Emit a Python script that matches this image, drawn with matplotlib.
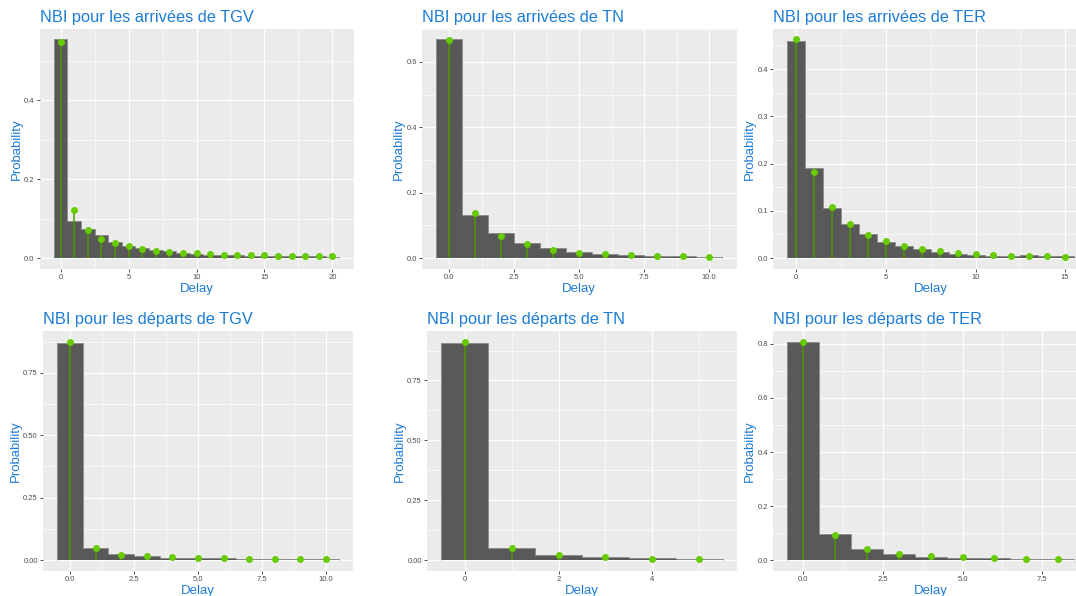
import numpy as np
import matplotlib
matplotlib.use('Agg')
import matplotlib.pyplot as plt
from matplotlib.ticker import FixedLocator

plt.rcParams['font.family'] = ['Liberation Sans', 'DejaVu Sans']

###############################################################################
# Data read off the reference: histogram bars (observed) and NBI pmf (points)

# Arrivals TGV
arr_tgv_bars = [0.555, 0.0945, 0.073, 0.058, 0.041, 0.031, 0.025, 0.021, 0.017, 0.014,
                0.011, 0.009, 0.0076, 0.0068, 0.006, 0.006, 0.005, 0.005, 0.004, 0.004, 0.0035]
arr_tgv_nbi = [0.549, 0.121, 0.070, 0.049, 0.037, 0.030, 0.024, 0.019, 0.016, 0.014,
               0.0127, 0.010, 0.009, 0.008, 0.007, 0.007, 0.006, 0.0059, 0.0045, 0.0043, 0.004]

# Arrivals TN
arr_tn_bars = [0.669, 0.133, 0.076, 0.045, 0.0305, 0.018, 0.013, 0.009, 0.007, 0.005, 0.003]
arr_tn_nbi = [0.667, 0.139, 0.069, 0.043, 0.026, 0.017, 0.012, 0.009, 0.007, 0.005, 0.003]

# Arrivals TER
arr_ter_bars = [0.459, 0.1905, 0.105, 0.073, 0.0506, 0.0337, 0.0253, 0.019, 0.0127, 0.0091,
                0.0063, 0.0042, 0.0042, 0.0056, 0.0042, 0.0042]
arr_ter_nbi = [0.4626, 0.182, 0.1076, 0.0717, 0.049, 0.036, 0.0253, 0.0197, 0.0148, 0.0105,
               0.0084, 0.0056, 0.0049, 0.0035, 0.0035, 0.0028]

# Departures TGV
dep_tgv_bars = [0.871, 0.0466, 0.0253, 0.016, 0.0093, 0.0093, 0.0067, 0.004, 0.003, 0.003, 0.003]
dep_tgv_nbi = [0.8735, 0.0466, 0.021, 0.0146, 0.0107, 0.008, 0.0067, 0.0055, 0.004, 0.004, 0.004]

# Departures TN
dep_tn_bars = [0.908, 0.0486, 0.0208, 0.011, 0.007, 0.004]
dep_tn_nbi = [0.911, 0.050, 0.0208, 0.011, 0.0055, 0.003]

# Departures TER
dep_ter_bars = [0.806, 0.096, 0.0407, 0.021, 0.0123, 0.0086, 0.006, 0.004, 0.004]
dep_ter_nbi = [0.8076, 0.0925, 0.0395, 0.0234, 0.0148, 0.011, 0.006, 0.0037, 0.0037]

titles = ['NBI pour les arrivées de TGV', 'NBI pour les arrivées de TN',
          'NBI pour les arrivées de TER', 'NBI pour les départs de TGV',
          'NBI pour les départs de TN', 'NBI pour les départs de TER']
x_ticks = [[0, 5, 10, 15, 20], [0, 2.5, 5, 7.5, 10], [0, 5, 10, 15],
           [0, 2.5, 5, 7.5, 10], [0, 2, 4], [0, 2.5, 5, 7.5]]
x_labels = [['0', '5', '10', '15', '20'], ['0.0', '2.5', '5.0', '7.5', '10.0'],
            ['0', '5', '10', '15'], ['0.0', '2.5', '5.0', '7.5', '10.0'],
            ['0', '2', '4'], ['0.0', '2.5', '5.0', '7.5']]
y_ticks = [[0, 0.2, 0.4], [0, 0.2, 0.4, 0.6], [0, 0.1, 0.2, 0.3, 0.4],
           [0, 0.25, 0.5, 0.75], [0, 0.25, 0.5, 0.75], [0, 0.2, 0.4, 0.6, 0.8]]
y_labels = [['0.0', '0.2', '0.4'], ['0.0', '0.2', '0.4', '0.6'],
            ['0.0', '0.1', '0.2', '0.3', '0.4'], ['0.00', '0.25', '0.50', '0.75'],
            ['0.00', '0.25', '0.50', '0.75'], ['0.0', '0.2', '0.4', '0.6', '0.8']]

bars = [arr_tgv_bars, arr_tn_bars, arr_ter_bars, dep_tgv_bars, dep_tn_bars, dep_ter_bars]
nbis = [arr_tgv_nbi, arr_tn_nbi, arr_ter_nbi, dep_tgv_nbi, dep_tn_nbi, dep_ter_nbi]

###############################################################################
# Layout (pixel boxes: left, right, top, bottom)
W, H = 1076, 596
boxes = [(39.5, 353.5, 28.5, 269), (422, 736.5, 28.5, 269), (773, 1088.5, 28.5, 269),
         (43, 353, 331, 571), (427, 737, 331, 571), (773, 1088.5, 331, 571)]

blue = '#1C7CD5'
tick_grey = '#4D4D4D'

fig = plt.figure(figsize=(W / 100, H / 100), dpi=100)
fig.patch.set_facecolor('white')


def minor_between(ticks, lo, hi):
    step = ticks[1] - ticks[0]
    m = np.arange(ticks[0] - step / 2, ticks[-1] + step, step)
    return [v for v in m if lo <= v <= hi]


for n in range(6):
    l, r, t, b = boxes[n]
    ax = fig.add_axes([l / W, 1 - b / H, (r - l) / W, (b - t) / H])
    ax.set_facecolor('#EBEBEB')
    for s in ax.spines.values():
        s.set_visible(False)

    h = np.array(bars[n])
    p = np.array(nbis[n])
    x = np.arange(len(h))

    ymax = max(h.max(), p.max())
    xlo, xhi = -0.5, len(h) - 0.5
    xpad = 0.05 * (xhi - xlo)
    ax.set_xlim(xlo - xpad, xhi + xpad)
    ax.set_ylim(-0.05 * ymax, ymax * 1.05)

    # histogram: filled bars, light outline along the top
    ax.bar(x, h, width=1, color='#595959', linewidth=0, zorder=2)
    ax.stairs(h, np.arange(len(h) + 1) - 0.5, baseline=0, fill=False,
              color='#8F8F8F', linewidth=0.7, zorder=2.5)
    ax.vlines(x, 0, p, color='#4C9900', linewidth=1.1, zorder=3)
    ax.plot(x, p, 'o', color='#66CC00', markersize=5, markeredgewidth=0, zorder=4)

    ax.xaxis.set_major_locator(FixedLocator(x_ticks[n]))
    ax.set_xticklabels(x_labels[n])
    ax.yaxis.set_major_locator(FixedLocator(y_ticks[n]))
    ax.set_yticklabels(y_labels[n])
    ax.xaxis.set_minor_locator(FixedLocator(minor_between(x_ticks[n], *ax.get_xlim())))
    ax.yaxis.set_minor_locator(FixedLocator(minor_between(y_ticks[n], *ax.get_ylim())))

    ax.grid(which='major', color='white', linewidth=0.9, zorder=0)
    ax.grid(which='minor', color='white', linewidth=0.45, zorder=0)
    ax.set_axisbelow(True)
    ax.tick_params(which='major', length=2.2, width=0.6, color='#333333',
                   labelsize=5.5, labelcolor=tick_grey, pad=1.5)
    ax.tick_params(which='minor', length=0)

    ax.set_xlabel('Delay', color=blue, fontsize=9.5, labelpad=1.5)
    ax.set_ylabel('Probability', color=blue, fontsize=9.5, labelpad=1)
    ax.set_title(titles[n], loc='left', color=blue, fontsize=11.8, pad=5)

fig.savefig('out.png', dpi=100)
